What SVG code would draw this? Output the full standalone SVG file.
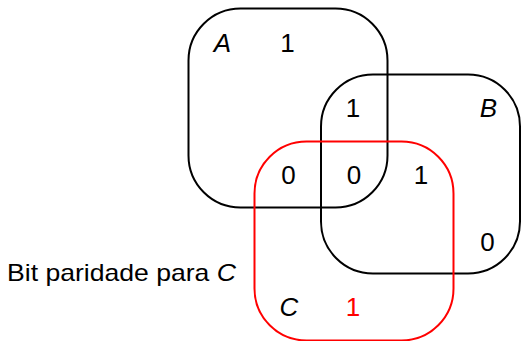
<svg xmlns="http://www.w3.org/2000/svg" width="521" height="341" viewBox="0 0 521 341">
<style>
.set{fill:none;stroke-width:2}
.blk{stroke:#000}
.red{stroke:#ff0000}
text{font-family:"Liberation Sans",Arial,sans-serif;font-size:26px;text-anchor:middle;fill:#000}
.it{font-style:italic}
.rt{fill:#ff0000}
</style>
<rect width="521" height="341" fill="#fff"/>
<g id="setA">
<rect class="set blk" x="188.5" y="8.5" width="199" height="199" rx="52" ry="52"/>
<text class="it" x="222.5" y="52">A</text>
</g>
<g id="setB">
<rect class="set blk" x="321" y="74.5" width="199" height="199" rx="52" ry="52"/>
<text class="it" x="488.5" y="117">B</text>
</g>
<g id="setC">
<rect class="set red" x="254.5" y="141.5" width="199" height="199" rx="52" ry="52"/>
<text class="it" x="289" y="316">C</text>
</g>
<g id="values">
<text x="287.5" y="52">1</text>
<text x="353" y="117">1</text>
<text x="288.5" y="184">0</text>
<text x="354" y="184">0</text>
<text x="421" y="184">1</text>
<text x="487.5" y="251">0</text>
<text class="rt" x="353" y="316">1</text>
</g>
<g id="label">
<text x="7" y="281" style="text-anchor:start;font-size:24px" textLength="229" lengthAdjust="spacingAndGlyphs">Bit paridade para <tspan class="it">C</tspan></text>
</g>
<g id="connectors"/>
</svg>
